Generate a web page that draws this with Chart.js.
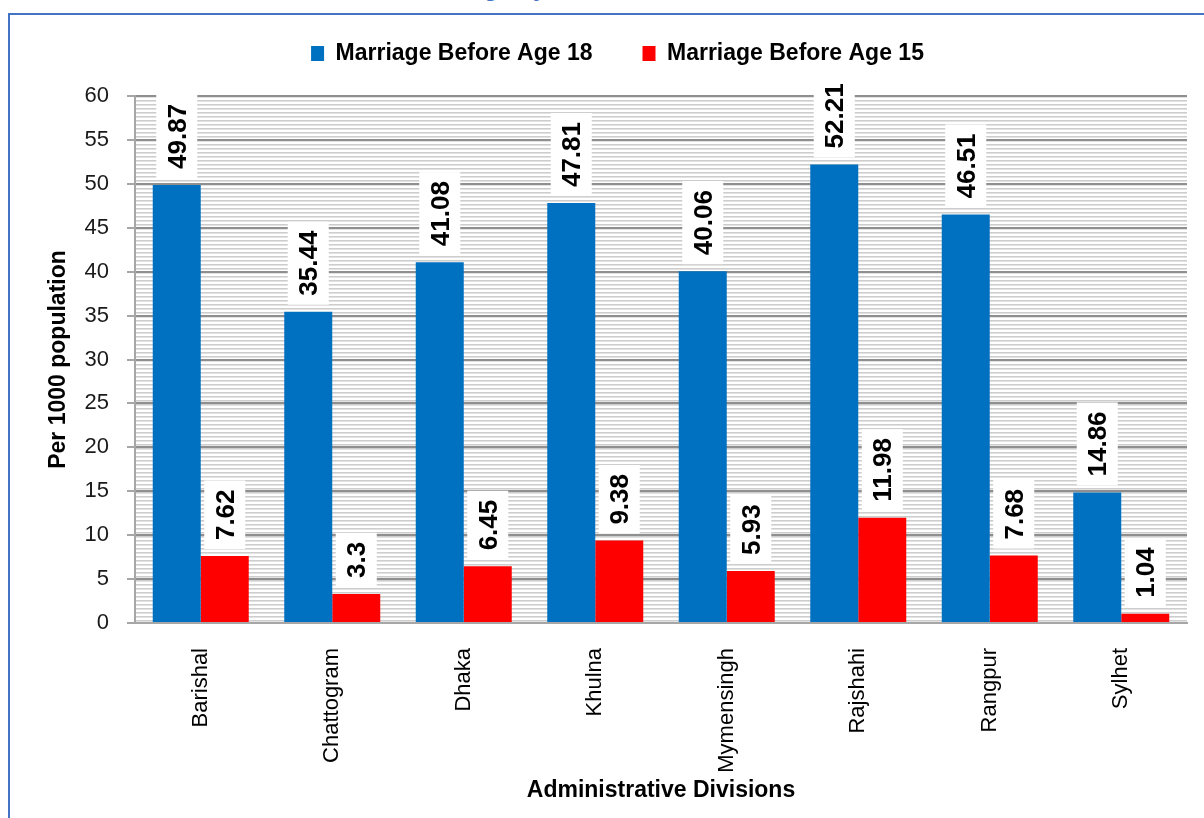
<!DOCTYPE html>
<html>
<head>
<meta charset="utf-8">
<script src="https://cdn.jsdelivr.net/npm/chart.js@4.4.1/dist/chart.umd.min.js"></script>
<style>
    html, body { margin: 0; padding: 0; background: #fff; overflow: hidden; }
    #frame {
        position: absolute; left: 8px; top: 13px; width: 1300px; height: 900px;
        border: 2px solid #4472c4; box-sizing: border-box;
    }
    #topTitle {
        position: absolute; left: 345px; top: -26px; line-height: 24px;
        font: bold 24px "Liberation Sans", Arial, sans-serif; color: #4472c4; white-space: nowrap;
    }
    #wrap { position: absolute; left: 0; top: 0; width: 1204px; height: 818px; }
</style>
</head>
<body>
<div id="topTitle">Child Marriage by Division, 2022</div>
<div id="frame"></div>
<div id="wrap"><canvas id="marriageChart"></canvas></div>
<script>
// chart data
const divisions = ['Barishal', 'Chattogram', 'Dhaka', 'Khulna', 'Mymensingh', 'Rajshahi', 'Rangpur', 'Sylhet'];
const before18 = [49.87, 35.44, 41.08, 47.81, 40.06, 52.21, 46.51, 14.86];
const before15 = [7.62, 3.3, 6.45, 9.38, 5.93, 11.98, 7.68, 1.04];
const yTicks = [0, 5, 10, 15, 20, 25, 30, 35, 40, 45, 50, 55, 60];

const FONT = '"Liberation Sans", Arial, sans-serif';

// striped plot background
function stripePattern(ctx) {
    const c = document.createElement('canvas');
    c.width = 4; c.height = 4;
    const p = c.getContext('2d');
    p.fillStyle = '#ffffff';
    p.fillRect(0, 0, 4, 4);
    p.fillStyle = '#cdcdcd';
    p.fillRect(0, 0, 4, 1);
    p.fillStyle = '#e2e2e2';
    p.fillRect(0, 1, 4, 1);
    return ctx.createPattern(c, 'repeat');
}

const plotBackground = {
    id: 'plotBackground',
    beforeDraw(chart) {
        const {ctx, chartArea} = chart;
        ctx.save();
        ctx.fillStyle = stripePattern(ctx);
        ctx.fillRect(chartArea.left, chartArea.top, chartArea.right - chartArea.left, chartArea.bottom - chartArea.top);
        ctx.restore();
    }
};

// fixed legend height, legend nudged up and right
const legendSize = {
    id: 'legendSize',
    beforeInit(chart) {
        const legend = chart.legend;
        const fit = legend.fit;
        legend.fit = function() {
            fit.call(this);
            this.height = 96;
        };
    },
    afterLayout(chart) {
        chart.legend.top -= 8;
        chart.legend.left += 24;
        chart.legend.right += 24;
    }
};

// rotated value labels on white boxes
const valueBoxes = {
    id: 'valueBoxes',
    afterDatasetsDraw(chart) {
        const ctx = chart.ctx;
        ctx.save();
        ctx.font = 'bold 26px ' + FONT;
        chart.data.datasets.forEach(function(ds, i) {
            chart.getDatasetMeta(i).data.forEach(function(bar, j) {
                const text = String(ds.data[j]);
                const w = ctx.measureText(text).width;
                const boxH = w + 18;
                const boxW = 41;
                const bottom = bar.y - 7;
                ctx.fillStyle = '#ffffff';
                ctx.fillRect(bar.x - boxW / 2, bottom - boxH, boxW, boxH);
                ctx.save();
                ctx.translate(bar.x + 1, bottom - boxH / 2);
                ctx.rotate(-Math.PI / 2);
                ctx.fillStyle = '#000000';
                ctx.textAlign = 'center';
                ctx.textBaseline = 'middle';
                ctx.fillText(text, 0, 1);
                ctx.restore();
            });
        });
        ctx.restore();
    }
};

new Chart(document.getElementById('marriageChart').getContext('2d'), {
    type: 'bar',
    data: {
        labels: divisions,
        datasets: [{
            label: 'Marriage Before Age 18',
            data: before18,
            backgroundColor: '#0070c0',
            borderWidth: 0
        }, {
            label: 'Marriage Before Age 15',
            data: before15,
            backgroundColor: '#ff0000',
            borderWidth: 0
        }]
    },
    options: {
        responsive: true,
        maintainAspectRatio: false,
        animation: false,
        categoryPercentage: 0.73,
        barPercentage: 1.0,
        layout: {
            padding: { left: 0, right: 17, top: 0, bottom: 0 }
        },
        plugins: {
            legend: {
                position: 'top',
                labels: {
                    boxWidth: 13,
                    boxHeight: 15,
                    padding: 50,
                    color: '#000',
                    font: { family: FONT, size: 23, weight: 'bold' }
                }
            },
            tooltip: { enabled: false }
        },
        scales: {
            x: {
                grid: { display: false },
                border: { display: true, color: '#a6a6a6', width: 2 },
                ticks: {
                    minRotation: 90,
                    maxRotation: 90,
                    padding: 17,
                    color: '#000',
                    font: { family: FONT, size: 22 }
                },
                title: {
                    display: true,
                    text: 'Administrative Divisions',
                    color: '#000',
                    padding: { top: 0, bottom: 14 },
                    font: { family: FONT, size: 23, weight: 'bold' }
                },
                afterFit(scale) { scale.height = 195; }
            },
            y: {
                min: yTicks[0],
                max: yTicks[yTicks.length - 1],
                afterBuildTicks(scale) {
                    scale.ticks = yTicks.map(v => ({ value: v }));
                },
                grid: {
                    color: '#8f8f8f',
                    lineWidth: 2,
                    tickLength: 8,
                    tickColor: '#a6a6a6'
                },
                border: { display: true, color: '#a6a6a6', width: 2 },
                ticks: {
                    padding: 18,
                    color: '#1a1a1a',
                    font: { family: FONT, size: 22 }
                },
                title: {
                    display: true,
                    text: 'Per 1000 population',
                    color: '#000',
                    padding: { top: 45, bottom: 0 },
                    font: { family: FONT, size: 23, weight: 'bold' }
                },
                afterFit(scale) { scale.width = 135; }
            }
        }
    },
    plugins: [plotBackground, legendSize, valueBoxes]
});
</script>
</body>
</html>
